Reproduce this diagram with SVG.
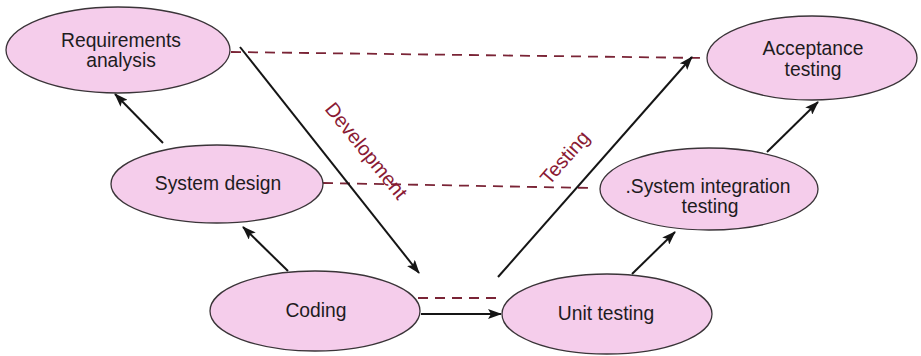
<svg xmlns="http://www.w3.org/2000/svg" width="921" height="356" viewBox="0 0 921 356">
  <style>
    .node ellipse { fill: #f5cdeb; stroke: #3a3438; stroke-width: 1.3; }
    .node text { font-family: "Liberation Sans", Arial, sans-serif; font-size: 19.3px; fill: #1e1c1e; text-anchor: middle; }
    .flow { stroke: #151515; stroke-width: 2; fill: none; marker-end: url(#arrow); }
    .pair { stroke: #7a2436; stroke-width: 1.8; stroke-dasharray: 10 7; fill: none; }
    .phase { font-family: "Liberation Sans", Arial, sans-serif; font-size: 20px; fill: #8a1a34; text-anchor: middle; }
  </style>
  <defs>
    <marker id="arrow" viewBox="0 0 14 10" refX="13" refY="5" markerWidth="14" markerHeight="10" markerUnits="userSpaceOnUse" orient="auto">
      <path d="M0,0 L14,5 L0,10 L3,5 Z" fill="#151515"/>
    </marker>
  </defs>
  <rect width="921" height="356" fill="#ffffff"/>

  <!-- connectors -->
  <g id="connectors">
    <!-- level pairings -->
    <line class="pair" x1="231" y1="52" x2="704" y2="58"/>
    <line class="pair" x1="323" y1="183" x2="592" y2="188"/>
    <line class="pair" x1="418" y1="298" x2="501" y2="298"/>
    <!-- left side upward -->
    <line class="flow" x1="288" y1="271" x2="243" y2="227"/>
    <line class="flow" x1="163" y1="143" x2="115" y2="94"/>
    <!-- development leg -->
    <line class="flow" x1="240" y1="47" x2="419" y2="273"/>
    <!-- coding to unit testing -->
    <line class="flow" x1="421" y1="314" x2="501" y2="314"/>
    <!-- testing leg -->
    <line class="flow" x1="498" y1="277" x2="692" y2="57"/>
    <!-- right side upward -->
    <line class="flow" x1="632" y1="274" x2="675" y2="232"/>
    <line class="flow" x1="767" y1="152" x2="818" y2="102"/>
    <text class="phase" transform="translate(361,155) rotate(51)">Development</text>
    <text class="phase" transform="translate(570,162) rotate(-49)">Testing</text>
  </g>

  <g id="requirements" class="node">
    <ellipse cx="118" cy="50" rx="112" ry="43"/>
    <text x="121" y="47">Requirements</text>
    <text x="121" y="67">analysis</text>
  </g>
  <g id="system-design" class="node">
    <ellipse cx="217" cy="184" rx="106" ry="39"/>
    <text x="218" y="190">System design</text>
  </g>
  <g id="coding" class="node">
    <ellipse cx="315" cy="311" rx="105" ry="40"/>
    <text x="316" y="317">Coding</text>
  </g>
  <g id="unit-testing" class="node">
    <ellipse cx="607" cy="314" rx="105" ry="40"/>
    <text x="606" y="320">Unit testing</text>
  </g>
  <g id="system-integration" class="node">
    <ellipse cx="709" cy="189" rx="109" ry="41"/>
    <text x="708" y="193">.System integration</text>
    <text x="710" y="213">testing</text>
  </g>
  <g id="acceptance" class="node">
    <ellipse cx="812" cy="58" rx="105" ry="42"/>
    <text x="813" y="55">Acceptance</text>
    <text x="813" y="76">testing</text>
  </g>
</svg>
